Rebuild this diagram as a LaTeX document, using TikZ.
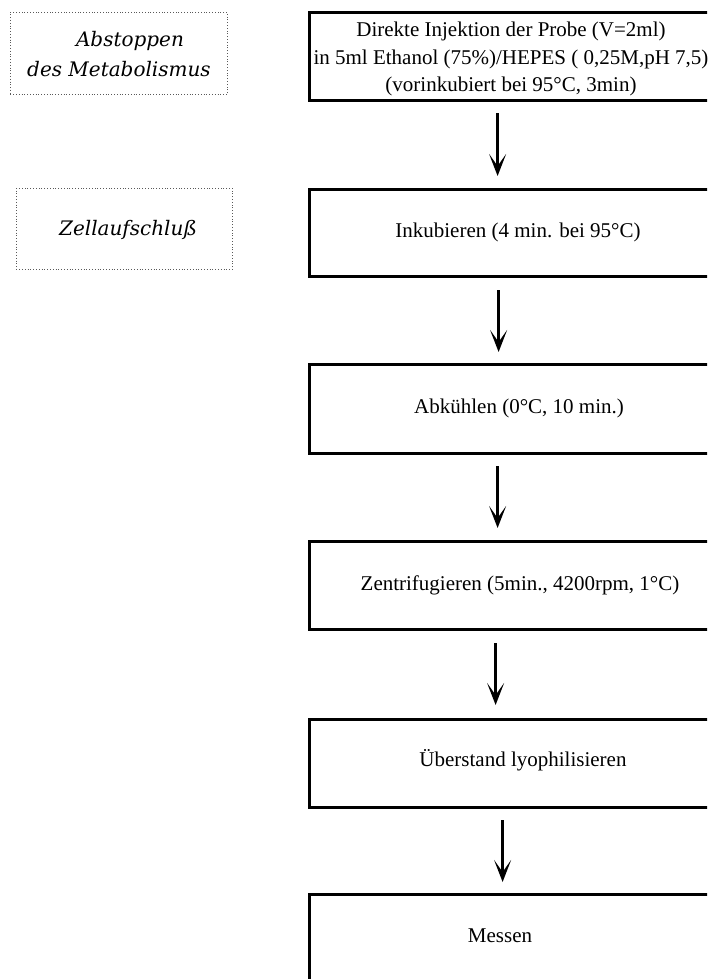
\documentclass[tikz,border=0pt]{standalone}
\usepackage{fontspec}
\setmainfont{Liberation Serif}
\newfontfamily\labelfont{DejaVu Serif}
\usetikzlibrary{arrows.meta}
\begin{document}
\begin{tikzpicture}[x=1pt,y=-1pt,
  mainbox/.style={draw, line width=3.2pt, minimum width=412pt, minimum height=88pt, anchor=north west, inner sep=0pt},
  sidebox/.style={draw=black!65, dotted, line width=0.8pt, anchor=north west, inner sep=0pt},
  boxtext/.style={font=\fontsize{21}{27.5}\selectfont, align=center, inner sep=0pt},
  sidetext/.style={font=\labelfont\itshape\fontsize{20}{30}\selectfont, align=center, inner sep=0pt},
  flow/.style={line width=2.4pt, -{Stealth[length=22pt,width=17pt,inset=12pt]}}
]
\useasboundingbox (0,0) rectangle (707,979);
\clip (0,0) rectangle (707,979);
% side labels
\node[sidebox, minimum width=217pt, minimum height=82pt] (s1) at (10,12) {};
\node[sidetext] (s1t) at (119,54) {\hspace*{22pt}Abstoppen\\des Metabolismus};
\node[sidebox, minimum width=216pt, minimum height=81pt] (s2) at (16,188) {};
\node[sidetext] (s2t) at (128,230) {Zellaufschluß};
% main boxes
\node[mainbox, minimum height=88pt] (b1) at (308,11) {};
\node[mainbox, minimum height=87pt] (b2) at (308,188) {};
\node[mainbox, minimum height=89pt] (b3) at (308,363) {};
\node[mainbox, minimum height=88pt] (b4) at (308,540) {};
\node[mainbox, minimum height=88pt] (b5) at (308,718) {};
\node[mainbox, minimum height=88pt] (b6) at (308,893) {};
% texts
\node[boxtext] (t1) at (511,59) {Direkte Injektion der Probe (V=2ml)\\in 5ml Ethanol (75\%)/HEPES ( 0,25M,pH 7,5)\\(vorinkubiert bei 95°C, 3min)};
\node[boxtext] (t2) at (518,232) {Inkubieren (4 min. bei 95°C)};
\node[boxtext] (t3) at (519,408) {Abkühlen (0°C, 10 min.)};
\node[boxtext] (t4) at (520,585) {Zentrifugieren (5min., 4200rpm, 1°C)};
\node[boxtext] (t5) at (523,760) {Überstand lyophilisieren};
\node[boxtext] (t6) at (500,936) {Messen};
% arrows
\draw[flow] ([xshift=-18pt,yshift=-11pt]b1.south) -- ([xshift=-18pt,yshift=12pt]b2.north);
\draw[flow] ([xshift=-17pt,yshift=-12pt]b2.south) -- ([xshift=-17pt,yshift=11pt]b3.north);
\draw[flow] ([xshift=-18pt,yshift=-11pt]b3.south) -- ([xshift=-18pt,yshift=12pt]b4.north);
\draw[flow] ([xshift=-20pt,yshift=-12pt]b4.south) -- ([xshift=-20pt,yshift=13pt]b5.north);
\draw[flow] ([xshift=-13pt,yshift=-11pt]b5.south) -- ([xshift=-13pt,yshift=11pt]b6.north);
\end{tikzpicture}
\end{document}
